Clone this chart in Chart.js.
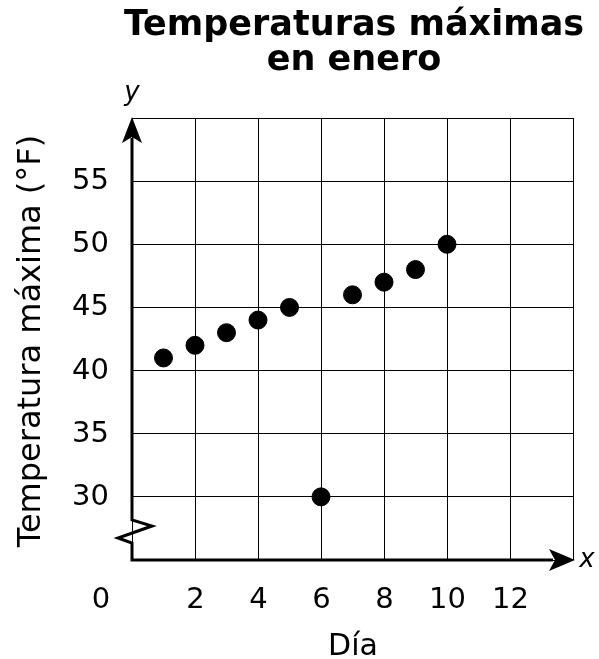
<!DOCTYPE html>
<html>
<head>
<meta charset="utf-8">
<script src="https://cdn.jsdelivr.net/npm/chart.js@4"></script>
<style>
  html, body { margin: 0; padding: 0; background: #fff; }
  #wrap { width: 599px; height: 659px; }
</style>
</head>
<body>
<div id="wrap"><canvas id="chart" width="599" height="659"></canvas></div>
<script>
// data
const days = [1, 2, 3, 4, 5, 6, 7, 8, 9, 10];
const maxTemps = [41, 42, 43, 44, 45, 30, 46, 47, 48, 50];
const xTickLabels = [0, 2, 4, 6, 8, 10, 12];
const yTickLabels = [30, 35, 40, 45, 50, 55];

const FONT = "'DejaVu Sans', Verdana, sans-serif";

const decorPlugin = {
  id: 'decor',
  afterDraw(chart) {
    const ctx = chart.ctx;
    const xs = chart.scales.x;
    const ys = chart.scales.y;
    const left = xs.getPixelForValue(0);
    const right = xs.getPixelForValue(14);
    const top = ys.getPixelForValue(60);
    const bottom = ys.getPixelForValue(25);

    ctx.save();
    ctx.fillStyle = '#000';
    ctx.strokeStyle = '#000';
    ctx.textBaseline = 'alphabetic';

    // title
    ctx.font = 'bold 35px ' + FONT;
    ctx.textAlign = 'center';
    ctx.fillText('Temperaturas máximas', 354, 35);
    ctx.fillText('en enero', 354, 70);

    // axes with arrows and the break mark
    ctx.lineWidth = 3;
    ctx.lineJoin = 'miter';
    ctx.beginPath();
    ctx.moveTo(left, top + 20);
    ctx.lineTo(left, bottom - 40);
    ctx.lineTo(left + 20, bottom - 34);
    ctx.lineTo(left - 14, bottom - 22);
    ctx.lineTo(left, bottom - 17);
    ctx.lineTo(left, bottom);
    ctx.lineTo(right - 20, bottom);
    ctx.stroke();

    ctx.beginPath();
    ctx.moveTo(left, top - 1);
    ctx.lineTo(left - 10, top + 25);
    ctx.lineTo(left, top + 19);
    ctx.lineTo(left + 10, top + 25);
    ctx.closePath();
    ctx.fill();

    ctx.beginPath();
    ctx.moveTo(right + 2, bottom);
    ctx.lineTo(right - 24, bottom - 11);
    ctx.lineTo(right - 18, bottom);
    ctx.lineTo(right - 24, bottom + 11);
    ctx.closePath();
    ctx.fill();

    // axis letters
    ctx.font = 'italic 26px ' + FONT;
    ctx.textAlign = 'center';
    ctx.fillText('y', left, 100);
    ctx.fillText('x', right + 14, bottom + 7);

    // tick labels
    ctx.font = '29px ' + FONT;
    ctx.textAlign = 'right';
    yTickLabels.forEach(v => {
      ctx.fillText(String(v), left - 23, ys.getPixelForValue(v) + 8);
    });
    ctx.textAlign = 'center';
    xTickLabels.forEach(v => {
      const px = v === 0 ? left - 31 : xs.getPixelForValue(v) + 0.5;
      ctx.fillText(String(v), px, bottom + 48);
    });

    // axis titles
    ctx.font = '30px ' + FONT;
    ctx.fillText('Día', 353, 655);
    ctx.font = '32px ' + FONT;
    ctx.translate(40, 341);
    ctx.rotate(-Math.PI / 2);
    ctx.fillText('Temperatura máxima (°F)', 0, 0);
    ctx.restore();
  }
};

new Chart(document.getElementById('chart').getContext('2d'), {
  type: 'scatter',
  data: {
    datasets: [{
      label: 'Temperatura máxima',
      data: days.map((d, i) => ({ x: d, y: maxTemps[i] })),
      backgroundColor: '#000',
      borderColor: '#000',
      pointRadius: 9,
      pointHoverRadius: 9
    }]
  },
  options: {
    responsive: false,
    animation: false,
    layout: { padding: { left: 132, right: 26, top: 118, bottom: 99 } },
    plugins: { legend: { display: false }, tooltip: { enabled: false }, title: { display: false } },
    scales: {
      x: {
        type: 'linear', min: 0, max: 14,
        ticks: { display: false, stepSize: 2 },
        grid: { color: '#000', lineWidth: 1, drawTicks: false },
        border: { display: false }
      },
      y: {
        type: 'linear', min: 25, max: 60,
        ticks: { display: false, stepSize: 5 },
        grid: { color: '#000', lineWidth: 1, drawTicks: false },
        border: { display: false }
      }
    }
  },
  plugins: [decorPlugin]
});
</script>
</body>
</html>
